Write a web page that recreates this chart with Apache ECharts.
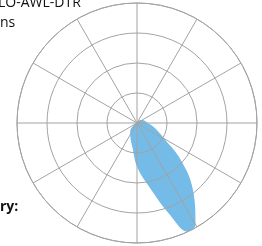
<!DOCTYPE html>
<html>
<head>
<meta charset="utf-8">
<script src="https://cdn.jsdelivr.net/npm/echarts@6/dist/echarts.min.js"></script>
<style>
  html, body { margin: 0; padding: 0; background: #fff; }
  #chart { width: 262px; height: 246px; }
</style>
</head>
<body>
<div id="chart"></div>
<script>
// direction in degrees (clockwise from north) and lobe radius in ring units
var angles = [30, 40, 50, 60, 70, 80, 90, 100, 110, 120, 130, 140, 150, 155, 160, 170, 180, 190, 200, 210, 220, 230, 240, 250];
var radii  = [0.05, 0.1, 0.15, 0.2, 0.25, 0.3, 0.36, 0.5, 0.72, 1.05, 1.9, 2.9, 3.9, 4.0, 3.3, 2.1, 1.45, 0.85, 0.6, 0.45, 0.35, 0.2, 0.1, 0.03];
var titleText = "LO-AWL-DTR";
var subText = "ns";
var footText = "ry:";

(function(){
    var chart = echarts.init(document.getElementById("chart"));
    var gridColor = '#a3a3a3';

    var lobe = angles.map(function(a, i){ return [radii[i], a]; });

    var option = {
        animation: false,
        polar: {
            center: [137, 123],
            radius: 120
        },
        angleAxis: {
            type: 'value',
            min: 0,
            max: 360,
            interval: 30,
            startAngle: 90,
            clockwise: true,
            z: 10,
            axisLine: { show: true, lineStyle: { color: gridColor, width: 1 } },
            axisTick: { show: false },
            axisLabel: { show: false },
            splitLine: { show: true, lineStyle: { color: gridColor, width: 1 } }
        },
        radiusAxis: {
            type: 'value',
            min: 0,
            max: 4,
            interval: 1,
            z: 10,
            axisLine: { show: false },
            axisTick: { show: false },
            axisLabel: { show: false },
            splitLine: { show: true, lineStyle: { color: gridColor, width: 1 } }
        },
        series: [{
            type: 'line',
            coordinateSystem: 'polar',
            data: lobe,
            smooth: 0.4,
            symbol: 'none',
            lineStyle: { width: 0 },
            areaStyle: { color: '#74bbe7', opacity: 1 },
            z: 1
        }],
        graphic: [
            { type: 'text', left: -2, top: -4, z: 20,
              style: { text: titleText, font: '14px "Open Sans"', fill: '#111' } },
            { type: 'text', left: 0, top: 16, z: 20,
              style: { text: subText, font: '14px "Open Sans"', fill: '#111' } },
            { type: 'text', left: 0, top: 200, z: 20,
              style: { text: footText, font: 'bold 14px "Open Sans"', fill: '#111' } }
        ]
    };

    chart.setOption(option);
})();
</script>
</body>
</html>
